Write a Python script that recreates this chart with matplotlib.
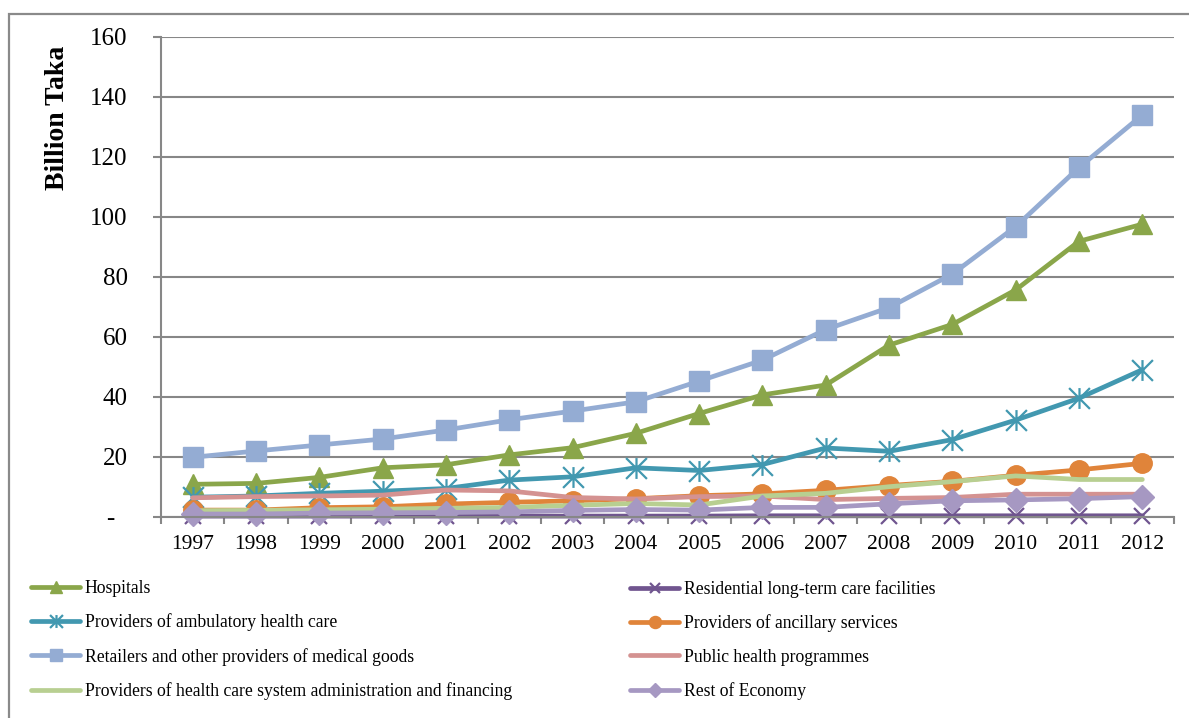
import matplotlib
matplotlib.use("Agg")
import matplotlib.pyplot as plt
from matplotlib.path import Path
from matplotlib.patches import Rectangle

years = ["1997", "1998", "1999", "2000", "2001", "2002", "2003", "2004",
         "2005", "2006", "2007", "2008", "2009", "2010", "2011", "2012"]

hospitals = [10.8, 11.1, 13.1, 16.3, 17.3, 20.6, 23.0, 27.8, 34.4, 40.6, 43.9, 57.2, 64.1, 75.6, 91.8, 97.5]
residential = [0.2, 0.2, 0.2, 0.2, 0.2, 0.2, 0.2, 0.2, 0.2, 0.3, 0.3, 0.3, 0.3, 0.3, 0.3, 0.3]
ambulatory = [6.5, 6.9, 7.8, 8.5, 9.4, 12.2, 13.3, 16.3, 15.4, 17.4, 22.9, 21.8, 25.7, 32.2, 39.5, 49.0]
ancillary = [2.2, 2.2, 3.0, 3.3, 4.2, 4.8, 5.3, 6.0, 7.0, 7.6, 8.8, 10.4, 11.8, 13.8, 15.6, 17.8]
retailers = [19.8, 21.9, 23.9, 25.9, 28.9, 32.3, 35.2, 38.3, 45.2, 52.2, 62.4, 69.7, 80.9, 96.7, 116.4, 133.9]
public_health = [6.3, 6.7, 6.9, 7.2, 8.9, 8.6, 6.4, 5.9, 6.7, 6.9, 5.7, 6.1, 6.4, 7.5, 7.5, 7.5]
administration = [2.0, 2.1, 2.3, 2.5, 2.8, 3.1, 3.8, 4.4, 3.9, 6.9, 7.8, 10.0, 11.7, 13.6, 12.4, 12.4]
rest_of_economy = [0.9, 0.9, 1.2, 1.3, 1.4, 1.6, 2.1, 2.4, 2.2, 3.1, 3.1, 4.3, 5.3, 5.6, 6.0, 6.7]

series_names = ["Hospitals",
                "Residential long-term care facilities",
                "Providers of ambulatory health care",
                "Providers of ancillary services",
                "Retailers and other providers of medical goods",
                "Public health programmes",
                "Providers of health care system administration and financing",
                "Rest of Economy"]

y_ticks = [0, 20, 40, 60, 80, 100, 120, 140, 160]
y_tick_labels = ["-  ", "20", "40", "60", "80", "100", "120", "140", "160"]

FONT = ["Liberation Serif", "DejaVu Serif"]
plt.rcParams["font.family"] = FONT

# Excel-style star marker: X plus vertical bar
star = Path([(0, -1), (0, 1), (-1, -1), (1, 1), (-1, 1), (1, -1)],
            [Path.MOVETO, Path.LINETO, Path.MOVETO, Path.LINETO, Path.MOVETO, Path.LINETO])

styles = [
    dict(color="#8aa64a", marker="^", ms=14, mew=1, mec="#8aa64a"),
    dict(color="#70558f", marker="x", ms=12, mew=1.6, mec="#70558f"),
    dict(color="#4298b0", marker=star, ms=15, mew=1.6, mec="#4298b0", mfc="none"),
    dict(color="#e0843a", marker="o", ms=14, mew=1, mec="#e0843a"),
    dict(color="#94acd3", marker="s", ms=14, mew=1, mec="#94acd3"),
    dict(color="#d49291", marker=None),
    dict(color="#b8cf91", marker=None),
    dict(color="#a698c2", marker="D", ms=12, mew=1, mec="#a698c2"),
]
data = [hospitals, residential, ambulatory, ancillary, retailers,
        public_health, administration, rest_of_economy]

W, H = 1189, 718
fig = plt.figure(figsize=(W / 100, H / 100), dpi=100)
ax = fig.add_axes([161 / W, 1 - 516.7 / H, (1174 - 161) / W, (516.7 - 36.7) / H])

x = list(range(len(years)))
handles = []
for vals, name, st in zip(data, series_names, styles):
    kw = dict(st)
    color = kw.pop("color")
    marker = kw.pop("marker")
    if marker is None:
        ln, = ax.plot(x, vals, color=color, lw=3.4, label=name, clip_on=False,
                      solid_capstyle="round", solid_joinstyle="round")
    else:
        ms = kw.pop("ms"); mew = kw.pop("mew"); mec = kw.pop("mec")
        mfc = kw.pop("mfc", color)
        ln, = ax.plot(x, vals, color=color, lw=3.4, marker=marker, ms=ms, mew=mew,
                      mec=mec, mfc=mfc, label=name, clip_on=False,
                      solid_capstyle="round", solid_joinstyle="round")
    handles.append(ln)

ax.set_xlim(-0.5, len(years) - 0.5)
ax.set_ylim(0, 160)
ax.set_yticks(y_ticks)
ax.set_yticklabels(y_tick_labels)
ax.set_xticks(x)
ax.set_xticklabels(years)
ax.set_xticks([i - 0.5 for i in range(len(years) + 1)], minor=True)

grey = "#878787"
ax.grid(axis="y", color=grey, lw=1.5, zorder=0)
ax.set_axisbelow(True)
for s in ["top", "right"]:
    ax.spines[s].set_visible(False)
ax.spines["left"].set_color(grey)
ax.spines["bottom"].set_color(grey)
ax.spines["left"].set_linewidth(1.5)
ax.spines["bottom"].set_linewidth(1.5)

ax.tick_params(axis="y", direction="out", length=6, width=1.5, color=grey,
               labelsize=18, pad=18)
ax.tick_params(axis="x", which="major", length=0, labelsize=15.5, pad=13)
ax.tick_params(axis="x", which="minor", direction="out", length=5, width=1.5, color=grey)

fig.text(58 / W, 1 - 46 / H, "Billion Taka", rotation=90, ha="center", va="top",
         fontsize=20, fontweight="bold")

# legends (two columns, row-major order of the original)
left_idx = [0, 2, 4, 6]
right_idx = [1, 3, 5, 7]
leg_kw = dict(frameon=False, fontsize=12.7, handlelength=2.8, handletextpad=0.25,
              labelspacing=0.93, borderpad=0, borderaxespad=0, numpoints=1,
              markerscale=0.62, loc="upper left")
leg1 = fig.legend([handles[i] for i in left_idx], [series_names[i] for i in left_idx],
                  bbox_to_anchor=(31 / W, 1 - 580 / H), **leg_kw)
leg2 = fig.legend([handles[i] for i in right_idx], [series_names[i] for i in right_idx],
                  bbox_to_anchor=(630 / W, 1 - 580 / H), **leg_kw)

# outer chart border
fig.patches.append(Rectangle((8.5 / W, -0.05), 1.2, 1 - 13.5 / H + 0.05,
                             transform=fig.transFigure, fill=False,
                             edgecolor="#8a8a8a", lw=1.6))

fig.savefig("out.png", dpi=100)
